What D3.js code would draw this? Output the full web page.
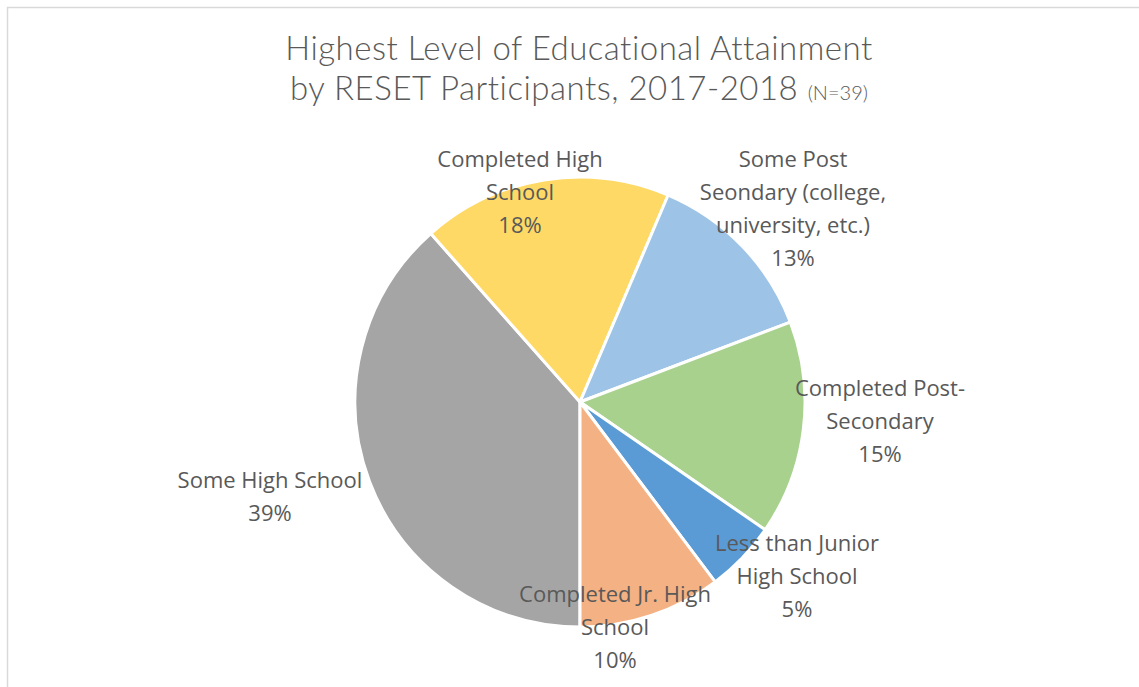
<!DOCTYPE html>
<html>
<head>
<meta charset="utf-8">
<script src="https://cdn.jsdelivr.net/npm/d3@7"></script>
<style>
  body { margin: 0; background: #fff; }
  svg { display: block; }
</style>
</head>
<body>
<div id="chart"></div>
<script>
// data: participant counts (N=39), in the order the pie draws them
var categories = ["Some High School", "Completed High School", "Some Post Seondary (college, university, etc.)",
    "Completed Post-Secondary", "Less than Junior High School", "Completed Jr. High School"];
var counts = [15, 7, 5, 6, 2, 4];
// percentages as printed on the original chart labels
var shownPct = [39, 18, 13, 15, 5, 10];
var labelLines = [
    ["Some High School"],
    ["Completed High", "School"],
    ["Some Post", "Seondary (college,", "university, etc.)"],
    ["Completed Post-", "Secondary"],
    ["Less than Junior", "High School"],
    ["Completed Jr. High", "School"]
];
var colors = ["#A5A5A5", "#FFD966", "#9DC3E6", "#A9D18E", "#5B9BD5", "#F4B183"];

// where each label block sits, relative to the pie centre
var labelOffset = [[-310, 94], [-60, -210], [213, -194], [300, 19], [217, 174], [35, 225]];

var width = 1139, height = 687;
var cx = 580, cy = 402, radius = 225;
var lineH = 33;

var svg = d3.select("#chart")
    .append("svg")
    .attr("width", width)
    .attr("height", height);

// chart frame
svg.append("rect")
    .attr("x", 7.5).attr("y", 7.5)
    .attr("width", width).attr("height", height)
    .attr("fill", "none")
    .attr("stroke", "#D9D9D9")
    .attr("stroke-width", 1.5);

// title
var title = svg.append("text")
    .attr("text-anchor", "middle")
    .attr("font-family", "Lato, sans-serif")
    .attr("font-weight", 300)
    .attr("letter-spacing", 0.5)
    .attr("fill", "#595959")
    .attr("font-size", 33);
title.append("tspan").attr("x", 579).attr("y", 60)
    .text("Highest Level of Educational Attainment");
title.append("tspan").attr("x", 579).attr("y", 100)
    .text("by RESET Participants, 2017-2018 ")
    .append("tspan").attr("font-size", 20).attr("letter-spacing", 0).text("(N=39)");

var data = categories.map(function(c, i) { return {cat: c, n: counts[i], i: i}; });

var pie = d3.pie()
    .sort(null)
    .value(function(d) { return d.n; })
    .startAngle(Math.PI)
    .endAngle(3 * Math.PI);

var arc = d3.arc().innerRadius(0).outerRadius(radius);

var g = svg.append("g")
    .attr("transform", "translate(" + cx + "," + cy + ")");

g.selectAll("path")
    .data(pie(data))
    .enter()
    .append("path")
    .attr("d", arc)
    .attr("fill", function(d) { return colors[d.data.i]; })
    .attr("stroke", "#fff")
    .attr("stroke-width", 3)
    .attr("stroke-linejoin", "round");

// data labels
var labels = g.selectAll("text.lbl")
    .data(data)
    .enter()
    .append("text")
    .attr("class", "lbl")
    .attr("text-anchor", "middle")
    .attr("font-family", "'Open Sans', sans-serif")
    .attr("font-size", 22)
    .attr("fill", "#595959");

labels.each(function(d) {
    var lines = labelLines[d.i].concat([shownPct[d.i] + "%"]);
    var off = labelOffset[d.i];
    var top = off[1] - (lines.length - 1) * lineH / 2 + 8;
    var t = d3.select(this);
    lines.forEach(function(s, k) {
        t.append("tspan")
            .attr("x", off[0])
            .attr("y", top + k * lineH)
            .text(s);
    });
});
</script>
</body>
</html>
